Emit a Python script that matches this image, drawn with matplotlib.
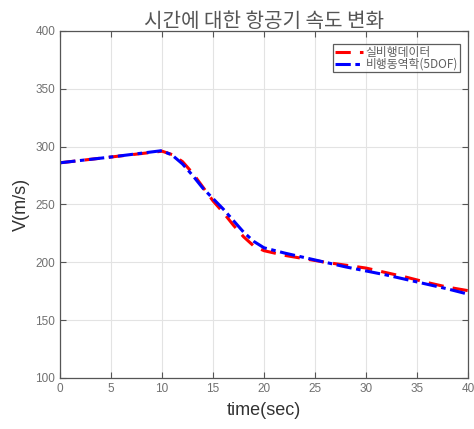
import matplotlib
matplotlib.use("Agg")
import matplotlib.pyplot as plt

plt.rcParams['font.family'] = ['Liberation Sans', 'Noto Sans CJK KR', 'DejaVu Sans']

# Flight test data (실비행데이터)
t_flight = [0, 5, 10, 11, 12, 13, 14, 15, 16, 17, 18, 19, 20, 22, 24, 26, 28, 30, 32, 34, 36, 38, 40]
v_flight = [286, 291, 296, 293, 287, 277, 265, 253, 243, 232, 222, 214, 210, 206, 203, 200, 197.5, 195, 191, 187, 182.5, 178.5, 175.5]

# 5DOF flight dynamics simulation (비행동역학(5DOF))
t_sim = [0, 5, 10, 11, 12, 13, 14, 15, 16, 17, 18, 19, 20, 22, 24, 26, 28, 30, 32, 34, 36, 38, 40]
v_sim = [286, 291, 296.5, 292.5, 285, 275, 264, 255, 246, 236, 226, 218, 212.5, 208, 204, 200, 196, 192.5, 189, 185, 181, 177, 172.5]

x_ticks = [0, 5, 10, 15, 20, 25, 30, 35, 40]
y_ticks = [100, 150, 200, 250, 300, 350, 400]

fig = plt.figure(figsize=(4.74, 4.29), dpi=100)
ax = fig.add_axes([0.127, 0.119, 0.860, 0.809])

ax.plot(t_flight, v_flight, color='#ff0000', linestyle=(0, (5, 3)), linewidth=2.2, label='실비행데이터')
ax.plot(t_sim, v_sim, color='#0000ff', linestyle=(0, (5, 1.5, 1.5, 1.5)), linewidth=2.2, label='비행동역학(5DOF)')

ax.set_xlim(0, 40)
ax.set_ylim(100, 400)
ax.set_xticks(x_ticks)
ax.set_yticks(y_ticks)
ax.grid(True, color='#e3e3e3', linewidth=0.8)
ax.set_axisbelow(True)

for s in ax.spines.values():
    s.set_color('#555555')
    s.set_linewidth(0.9)
ax.tick_params(direction='in', top=True, right=True, length=4, width=0.8,
               colors='#555555', labelcolor='#707070', labelsize=8.5)

ax.set_xlabel('time(sec)', fontsize=13, color='#333333', labelpad=5)
ax.set_ylabel('V(m/s)', fontsize=13, color='#333333', labelpad=4)
ax.set_title('시간에 대한 항공기 속도 변화', fontsize=14.5, color='#555555',
             family=['Noto Sans CJK KR', 'DejaVu Sans'], fontweight='light', pad=3)

leg = ax.legend(loc='upper right', bbox_to_anchor=(0.98, 0.962), borderaxespad=0,
                prop={'family': ['Noto Sans CJK KR', 'DejaVu Sans'], 'size': 8.5},
                frameon=True, fancybox=False, edgecolor='#333333',
                handlelength=2.4, borderpad=0.15, labelspacing=-0.1, handletextpad=0.2)
leg.get_frame().set_linewidth(0.9)
for txt in leg.get_texts():
    txt.set_color('#606060')

fig.savefig('out.png', dpi=100)
